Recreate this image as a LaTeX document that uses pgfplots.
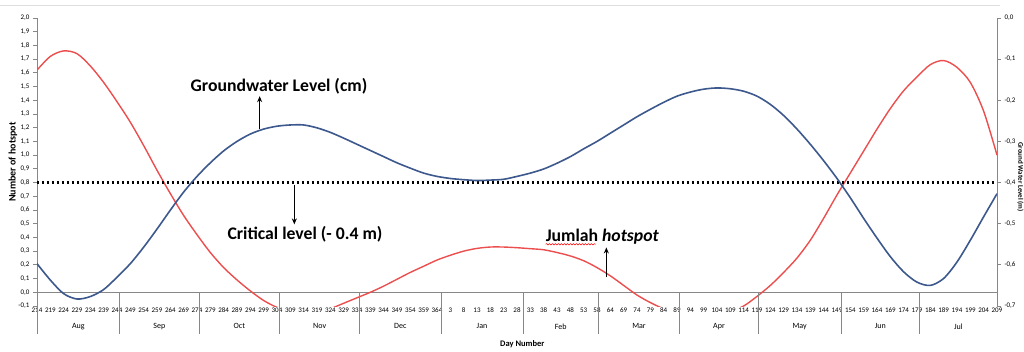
\documentclass[border=0pt]{standalone}
\usepackage{pgfplots}
\pgfplotsset{compat=1.18}
\usepackage{pgfplotstable}
\usepackage{fontspec}
\setmainfont{Carlito}
\usetikzlibrary{arrows.meta,calc,decorations.pathmorphing}
\definecolor{gwblue}{RGB}{60,88,140}
\definecolor{hsred}{RGB}{236,78,78}
\definecolor{axgray}{RGB}{135,135,135}

% Number of hotspot (left axis), x = category index (0 = day 214 ... 72 = day 209)
\pgfplotstableread{
idx hotspot
0 1.62
1 1.72
2 1.76
3 1.74
4 1.65
5 1.53
6 1.39
7 1.24
8 1.07
9 0.89
10 0.72
11 0.56
12 0.42
13 0.29
14 0.18
15 0.09
16 0.01
17 -0.06
18 -0.11
19 -0.14
20 -0.155
21 -0.15
22 -0.12
23 -0.08
24 -0.04
25 0.00
26 0.045
27 0.095
28 0.145
29 0.19
30 0.235
31 0.27
32 0.30
33 0.32
34 0.33
35 0.33
36 0.325
37 0.318
38 0.31
39 0.29
40 0.265
41 0.23
42 0.18
43 0.12
44 0.05
45 -0.02
46 -0.075
47 -0.12
48 -0.15
49 -0.165
50 -0.17
51 -0.165
52 -0.14
53 -0.10
54 -0.03
55 0.05
56 0.145
57 0.25
58 0.38
59 0.54
60 0.71
61 0.87
62 1.03
63 1.19
64 1.34
65 1.47
66 1.57
67 1.66
68 1.69
69 1.64
70 1.53
71 1.32
72 1.00
}\hotspotdata

% Ground water level (m, right axis)
\pgfplotstableread{
idx level
0 -0.597
1 -0.637
2 -0.670
3 -0.683
4 -0.677
5 -0.660
6 -0.630
7 -0.597
8 -0.557
9 -0.513
10 -0.467
11 -0.423
12 -0.385
13 -0.352
14 -0.323
15 -0.300
16 -0.282
17 -0.270
18 -0.263
19 -0.260
20 -0.260
21 -0.267
22 -0.278
23 -0.292
24 -0.307
25 -0.322
26 -0.337
27 -0.352
28 -0.365
29 -0.377
30 -0.385
31 -0.390
32 -0.393
33 -0.395
34 -0.394
35 -0.392
36 -0.385
37 -0.377
38 -0.367
39 -0.353
40 -0.337
41 -0.318
42 -0.300
43 -0.280
44 -0.260
45 -0.240
46 -0.222
47 -0.205
48 -0.190
49 -0.180
50 -0.173
51 -0.170
52 -0.172
53 -0.178
54 -0.190
55 -0.210
56 -0.237
57 -0.270
58 -0.307
59 -0.347
60 -0.390
61 -0.437
62 -0.487
63 -0.535
64 -0.580
65 -0.617
66 -0.642
67 -0.650
68 -0.633
69 -0.593
70 -0.540
71 -0.483
72 -0.427
}\gwdata

\begin{document}
\begin{tikzpicture}[x=1pt,y=1pt]
\draw[gray!25, line width=0.8pt] (0,346) -- (1000,346);
\begin{axis}[
  at={(37pt,45pt)}, anchor=south west,
  scale only axis, width=960pt, height=288pt,
  xmin=0, xmax=72, ymin=-0.1, ymax=2.0,
  axis y line*=left, axis x line*=bottom,
  x axis line style={draw=none},
  y axis line style={axgray, line width=0.8pt},
  xtick={0,...,72},
  xticklabels={214,219,224,229,234,239,244,249,254,259,264,269,274,279,284,289,294,299,304,309,314,319,324,329,334,339,344,349,354,359,364,3,8,13,18,23,28,33,38,43,48,53,58,64,69,74,79,84,89,94,99,104,109,114,119,124,129,134,139,144,149,154,159,164,169,174,179,184,189,194,199,204,209},
  xtick style={draw=none},
  ytick={-0.1,0.0,0.1,0.2,0.3,0.4,0.5,0.6,0.7,0.8,0.9,1.0,1.1,1.2,1.3,1.4,1.5,1.6,1.7,1.8,1.9,2.0},
  ytick style={axgray, line width=0.8pt},
  tick align=outside, major tick length=4pt,
  yticklabel style={font=\fontsize{7}{8}\selectfont, /pgf/number format/.cd, fixed, fixed zerofill, precision=1, use comma, assume math mode=true},
  xticklabel style={font=\fontsize{7}{8}\selectfont, anchor=center},
]
\draw[axgray, line width=0.8pt] (axis cs:0,0) -- (axis cs:72,0);
\coordinate (o) at (axis cs:0,0);
\coordinate (e) at (axis cs:72,0);
\coordinate (yl) at (rel axis cs:0,0.5);
\coordinate (yr) at (rel axis cs:1,0.5);
\addplot[hsred, line width=1.4pt, smooth] table[x=idx, y=hotspot] {\hotspotdata};
% annotations
\draw[black, line width=1.1pt, -{Stealth[length=6pt,width=5pt]}] (axis cs:16.7,1.19) -- (axis cs:16.7,1.43);
\node[font=\bfseries\fontsize{17.7}{19}\selectfont] at (axis cs:18.15,1.50) {Groundwater Level (cm)};
\draw[black, line width=1.1pt, -{Stealth[length=6pt,width=5pt]}] (axis cs:19.3,0.78) -- (axis cs:19.3,0.495);
\node[font=\bfseries\fontsize{17.7}{19}\selectfont] at (axis cs:20.1,0.42) {Critical level (- 0.4 m)};
\draw[black, line width=1.1pt, -{Stealth[length=6pt,width=5pt]}] (axis cs:42.7,0.11) -- (axis cs:42.7,0.327);
\node[font=\bfseries\fontsize{17.7}{19}\selectfont, inner sep=0pt] (jh) at (axis cs:42.4,0.407) {Jumlah \textit{hotspot}};
\end{axis}
\begin{axis}[
  at={(37pt,45pt)}, anchor=south west,
  scale only axis, width=960pt, height=288pt,
  xmin=0, xmax=72, ymin=-0.7, ymax=0,
  axis y line*=right, axis x line=none,
  y axis line style={axgray, line width=0.8pt},
  ytick={-0.7,-0.6,-0.5,-0.4,-0.3,-0.2,-0.1,0.0},
  ytick style={axgray, line width=0.8pt},
  tick align=outside, major tick length=4pt,
  yticklabel style={font=\fontsize{7}{8}\selectfont, /pgf/number format/.cd, fixed, fixed zerofill, precision=1, use comma, assume math mode=true},
]
\addplot[black, line width=2.4pt, dash pattern=on 2.4pt off 2.6pt] coordinates {(0,-0.4) (72,-0.4)};
\addplot[gwblue, line width=1.6pt, smooth] table[x=idx, y=level] {\gwdata};
\end{axis}
% month separators and labels
\foreach \s in {0,6.2,12.15,18.2,24.2,30.3,36.45,42.1,48.2,54.1,60.3,66.2}
  \draw[axgray, line width=0.8pt] ($(o)!\s/72!(e)$) -- ++(0,-42);
\foreach \m/\n in {3.1/Aug,9.175/Sep,15.175/Oct,21.2/Nov,27.25/Dec,33.375/Jan,39.275/Feb,45.15/Mar,51.15/Apr,57.2/May,63.25/Jun,69.1/Jul}
  \node[font=\fontsize{8}{9}\selectfont] at ($(o)!\m/72!(e)+(0,-34)$) {\n};
\node[font=\bfseries\fontsize{8.5}{10}\selectfont] at ($(o)!36.4/72!(e)+(0,-52)$) {Day Number};
\node[font=\bfseries\fontsize{10}{11}\selectfont, rotate=90] at ($(yl)+(-24,0)$) {Number of hotspot};
\node[font=\bfseries\fontsize{7}{8}\selectfont, rotate=-90, inner sep=0.5pt] at ($(yr)+(23.5,-15)$) {Ground Water Level (m)};
\draw[red, line width=0.5pt, decorate, decoration={snake, amplitude=0.7pt, segment length=3pt}] ($(jh.base west)+(0,-3)$) -- ($($(jh.base west)!0.44!(jh.base east)$)+(0,-3)$);
\pgfresetboundingbox
\path[use as bounding box] (0,0) rectangle (1024,351);
\end{tikzpicture}
\end{document}
